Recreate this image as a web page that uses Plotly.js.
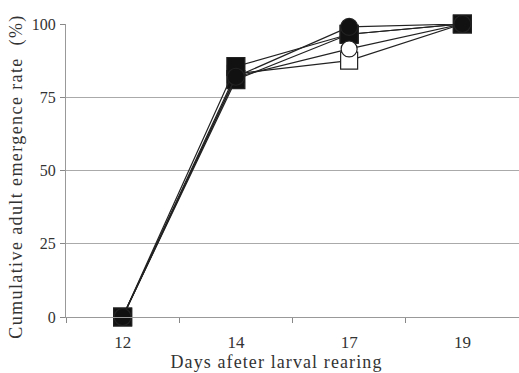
<!DOCTYPE html>
<html>
<head>
<meta charset="utf-8">
<script src="https://cdn.plot.ly/plotly-3.0.1.min.js"></script>
<style>
html,body{margin:0;padding:0;background:#fff;}
#chart{width:519px;height:373px;}
#chart .g-ytitle text{letter-spacing:1.4px;}
#chart g.g-ytitle{transform:translate(0px,6px);}
#chart .g-xtitle text{letter-spacing:1.1px;}
#chart g.g-xtitle{transform:translate(-16px,3px);}
</style>
</head>
<body>
<div id="chart"></div>
<script>
var days = ["12", "14", "17", "19"];
var openSquare = [0, 83, 87.5, 100];
var filledSquareB = [0, 81, 96.5, 100];
var filledSquareA = [0, 85.5, 96.5, 100];
var openCircle = [0, 82, 91.5, 100];
var filledCircle = [0, 82, 99, 100];
var yTicks = [0, 25, 50, 75, 100];

function series(y, symbol, filled, size) {
  return {
    x: days, y: y, type: "scatter", mode: "lines+markers",
    cliponaxis: false,
    line: {color: "#222", width: 1.2},
    marker: {symbol: symbol, size: size, color: filled ? "#111" : "#fff",
             line: {color: "#222", width: 1.2}}
  };
}

var data = [
  series(openSquare, "square", false, 17),
  series(filledSquareB, "square", true, 18),
  series(filledSquareA, "square", true, 18),
  series(openCircle, "circle", false, 16),
  series(filledCircle, "circle", true, 17)
];

var fam = "'Liberation Serif', 'Times New Roman', serif";
var txt = "#333";

var layout = {
  width: 519, height: 373,
  margin: {l: 66, r: 0, t: 24, b: 56},
  paper_bgcolor: "#fff", plot_bgcolor: "#fff",
  showlegend: false,
  font: {family: fam, color: txt},
  xaxis: {
    type: "category", range: [-0.5, 3.5],
    tickson: "boundaries", ticks: "outside", ticklen: 5, tickcolor: "#888",
    showgrid: false, showline: true, linecolor: "#999", linewidth: 1,
    zeroline: false,
    ticklabelstandoff: 10,
    tickfont: {family: fam, size: 17, color: txt},
    title: {text: "Days afeter larval rearing", font: {family: fam, size: 18, color: txt}, standoff: 0}
  },
  yaxis: {
    range: [0, 100], tickvals: yTicks, ticktext: yTicks.map(String),
    ticks: "outside", ticklen: 5, tickcolor: "#888",
    showgrid: true, gridcolor: "#aaa", gridwidth: 1,
    showline: true, linecolor: "#999", linewidth: 1, zeroline: false,
    ticklabelstandoff: 1,
    tickfont: {family: fam, size: 16, color: txt},
    title: {text: "Cumulative adult emergence rate  (%)", font: {family: fam, size: 18, color: txt}, standoff: 4}
  }
};

Plotly.newPlot("chart", data, layout, {displayModeBar: false, staticPlot: true});
</script>
</body>
</html>
